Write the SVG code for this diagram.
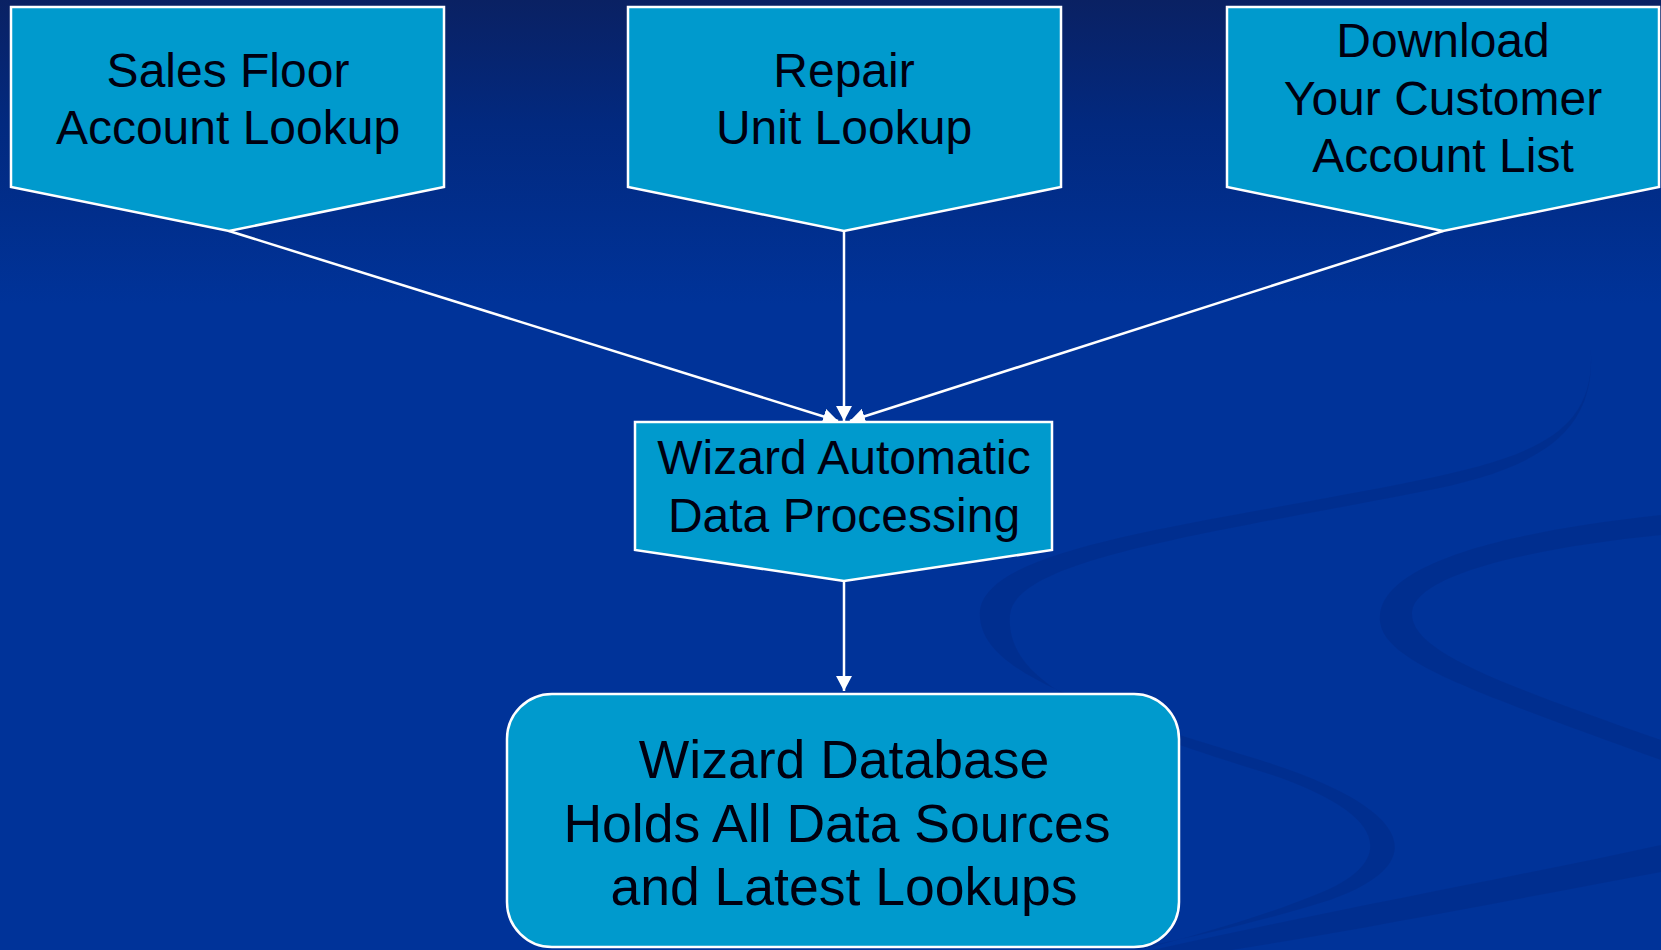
<svg xmlns="http://www.w3.org/2000/svg" width="1661" height="950" viewBox="0 0 1661 950">
<defs>
<linearGradient id="bg" x1="0" y1="0" x2="0" y2="1">
<stop offset="0" stop-color="#0a2163"/>
<stop offset="0.13" stop-color="#02297f"/>
<stop offset="0.32" stop-color="#003399"/>
<stop offset="1" stop-color="#003399"/>
</linearGradient>
<marker id="ah" markerUnits="userSpaceOnUse" markerWidth="16" markerHeight="16" refX="15" refY="8" orient="auto">
<path d="M0,0 L15,8 L0,16 z" fill="#ffffff"/>
</marker>
<style>
.node{fill:#009acd;stroke:#ffffff;stroke-width:2.5}
.lbl{font-family:"Liberation Sans",Arial,sans-serif;font-size:48px;fill:#000010;text-anchor:middle}
.big{font-size:53.5px}
.conn{stroke:#ffffff;stroke-width:2.5;fill:none;marker-end:url(#ah)}
.sw{fill:#002d8c;opacity:0.75;stroke:none}
</style>
</defs>
<rect x="0" y="0" width="1661" height="950" fill="url(#bg)"/>
<g id="swooshes">
<path class="sw" d="M1590,340 C1600,430 1540,455 1420,480 C1200,525 990,545 980,610 C975,670 1080,705 1260,760 C1420,810 1430,865 1330,900 C1250,925 1160,945 1100,955 L1120,955 C1180,940 1260,918 1320,893 C1400,860 1390,810 1250,768 C1090,718 1005,680 1010,615 C1015,560 1200,535 1420,492 C1545,468 1600,430 1590,340 Z"/>
<path class="sw" d="M1661,515 C1520,530 1385,560 1380,615 C1375,660 1470,690 1661,760 L1661,740 C1490,680 1410,650 1412,612 C1415,575 1530,548 1661,535 Z"/>
<path class="sw" d="M1130,955 C1330,910 1500,880 1661,845 L1661,872 C1500,902 1350,932 1200,955 Z"/>
</g>
<g id="connectors">
<line class="conn" x1="229" y1="231" x2="838" y2="421"/>
<line class="conn" x1="844" y1="231" x2="844" y2="421"/>
<line class="conn" x1="1443" y1="231" x2="850" y2="421"/>
<line class="conn" x1="844" y1="581" x2="844" y2="691"/>
</g>
<g id="node-sales">
<polygon class="node" points="11,7 444,7 444,187 229,231 11,187"/>
<text class="lbl" x="228" y="87">Sales Floor</text>
<text class="lbl" x="228" y="144">Account Lookup</text>
</g>
<g id="node-repair">
<polygon class="node" points="628,7 1061,7 1061,187 844,231 628,187"/>
<text class="lbl" x="844" y="87">Repair</text>
<text class="lbl" x="844" y="144">Unit Lookup</text>
</g>
<g id="node-download">
<polygon class="node" points="1227,7 1659,7 1659,187 1443,231 1227,187"/>
<text class="lbl" x="1443" y="57">Download</text>
<text class="lbl" x="1443" y="115">Your Customer</text>
<text class="lbl" x="1443" y="172">Account List</text>
</g>
<g id="node-processing">
<polygon class="node" points="635,422 1052,422 1052,550 844,581 635,550"/>
<text class="lbl" x="844" y="474">Wizard Automatic</text>
<text class="lbl" x="844" y="532">Data Processing</text>
</g>
<g id="node-database">
<rect class="node" x="507" y="694" width="672" height="253" rx="45" ry="45" stroke-width="3"/>
<text class="lbl big" x="844" y="778">Wizard Database</text>
<text class="lbl big" x="837" y="842">Holds All Data Sources</text>
<text class="lbl big" x="844" y="905">and Latest Lookups</text>
</g>
</svg>
